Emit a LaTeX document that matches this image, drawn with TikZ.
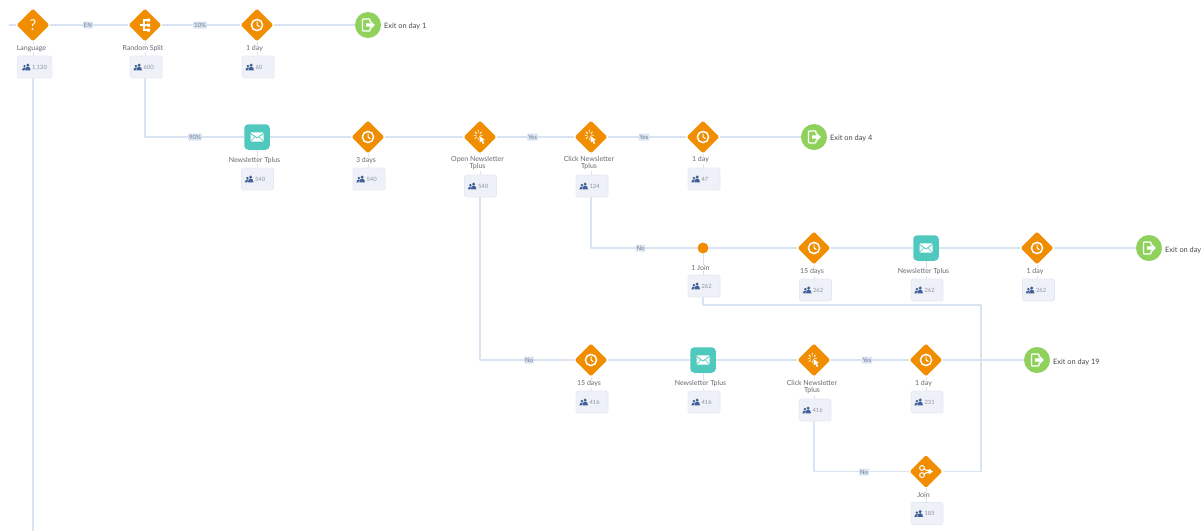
\documentclass[tikz,border=0pt]{standalone}
\usepackage{fontspec}
\setmainfont{Lato}
\usetikzlibrary{shapes.geometric,calc}
\pgfdeclarelayer{back}
\pgfsetlayers{back,main}
\definecolor{wire}{HTML}{D9E3F1}
\definecolor{orangeN}{HTML}{F08D00}
\definecolor{tealN}{HTML}{4FC9BD}
\definecolor{greenN}{HTML}{90D15C}
\definecolor{boxfill}{HTML}{EEF1F7}
\definecolor{boxline}{HTML}{E3E9F3}
\definecolor{peopleC}{HTML}{3F5F95}
\definecolor{countC}{HTML}{8B94A6}
\definecolor{labelC}{HTML}{666A70}
\definecolor{tagfill}{HTML}{DCE5F1}
\definecolor{tagtext}{HTML}{6C7D94}
\tikzset{
  wirepath/.style={draw=wire,line width=1.7pt,line join=round},
  stubpath/.style={draw=wire,line width=1pt},
  dia/.style={shape=diamond,fill=orangeN,minimum width=33pt,minimum height=33pt,inner sep=0pt,rounded corners=1.5pt},
  mailbox/.style={shape=rectangle,fill=tealN,minimum width=25.5pt,minimum height=25.5pt,inner sep=0pt,rounded corners=4pt},
  exitnode/.style={shape=circle,fill=greenN,minimum size=26pt,inner sep=0pt},
  dotnode/.style={shape=circle,fill=orangeN,minimum size=11pt,inner sep=0pt},
  countbox/.style={shape=rectangle,fill=boxfill,draw=boxline,line width=.7pt,rounded corners=1.5pt,minimum width=32pt,minimum height=22pt,inner sep=0pt},
  steplabel/.style={font=\fontsize{7}{7.6}\selectfont,text=labelC,align=center,fill=white,inner sep=.6pt},
  exitlabel/.style={font=\fontsize{7.4}{9}\selectfont,text=black!72,anchor=west,inner sep=0pt},
  tag/.style={font=\fontsize{6}{6.5}\selectfont,text=tagtext,fill=tagfill,inner sep=1pt,minimum height=7pt,rounded corners=.8pt},
  countnum/.style={font=\fontsize{5.8}{6.5}\selectfont,text=countC,anchor=west,inner sep=0pt},
  clockicon/.pic={\draw[white,line width=1.5pt] (0,0) circle (5.6);
     \draw[white,line width=1pt,line cap=round,line join=round] (0,-3.2) -- (0,0) -- (2.2,1.6);},
  mailicon/.pic={\fill[white,rounded corners=.8pt] (-6.5,-4.6) rectangle (6.5,4.6);
     \draw[tealN,line width=.8pt] (-6.5,-3.6) -- (0,1) -- (6.5,-3.6);
     \draw[tealN,line width=.5pt] (-6.5,4.2) -- (-2,-.2) (6.5,4.2) -- (2,-.2);},
  clickicon/.pic={\draw[white,line width=.8pt,line cap=round]
       (-1.8,-7) -- (-1.8,-4.8) (-1.8,2.8) -- (-1.8,1)
       (-6,-1.8) -- (-3.8,-1.8) (-5,-5) -- (-3.4,-3.4) (1.4,-5) -- (0,-3.4) (-5,1.6) -- (-3.4,0)
       (2.4,-1.8) -- (.4,-1.8);
     \fill[white] (-.6,-1.2) -- (5,3) -- (2.8,3.4) -- (4.2,6.4) -- (2.8,7) -- (1.4,4) -- (-.2,5.4) -- cycle;},
  spliticon/.pic={\draw[white,line width=1.1pt] (-5.5,0) -- (-1,0) (2,-5) -- (-1,-5) -- (-1,5) -- (2,5) (-1,0) -- (2,0);
     \fill[white] (2,-6.5) rectangle (5.2,-3.5) (2,-1.5) rectangle (5.2,1.5) (2,3.5) rectangle (5.2,6.5);},
  joinicon/.pic={\draw[white,line width=1pt] (-4,-3.6) circle (2.4) (-4,3.6) circle (2.4);
     \draw[white,line width=1.1pt] (-2.2,-2.2) -- (5,0) (-2.2,2.2) -- (5,0);
     \fill[white] (2.8,-3) -- (7,0) -- (2.8,3) -- cycle;},
  exiticon/.pic={\draw[white,line width=1.3pt,rounded corners=.8pt] (2,-3) -- (2,-6) -- (-5.5,-6) -- (-5.5,6) -- (2,6) -- (2,3);
     \fill[white] (-2,-1.6) -- (2.4,-1.6) -- (2.4,-4.4) -- (7,0) -- (2.4,4.4) -- (2.4,1.6) -- (-2,1.6) -- cycle;},
  peopleicon/.pic={\fill[peopleC] (1.4,-1.9) circle (1.65);
     \fill[peopleC] (-1.5,3.4) .. controls (-1.5,.6) and (.2,-.3) .. (1.4,-.3) .. controls (2.8,-.3) and (4.2,.6) .. (4.2,3.4) -- cycle;
     \fill[peopleC] (-1.9,-.9) circle (1.35);
     \fill[peopleC] (-4.4,3.4) .. controls (-4.4,1.4) and (-3.2,.6) .. (-1.9,.6) -- (-.9,.9) .. controls (-2,1.6) and (-2.2,2.4) .. (-2.2,3.4) -- cycle;},
}
% \cbox[opts]{name}{step above}{x}{y}{count}: count box with icon, and the stub from the step
\newcommand{\cbox}[6][]{%
  \node[countbox,#1] (#2) at (#4,#5) {};
  \pic at ($(#2.center)+(-8.2,0)$) {peopleicon};
  \node[countnum] at ($(#2.center)+(-2.6,0.3)$) {#6};
  \begin{pgfonlayer}{back}\draw[stubpath] (#3) -- (#3 |- #2.north);\end{pgfonlayer}}
\newcommand{\wire}[1]{\begin{pgfonlayer}{back}\draw[wirepath] #1;\end{pgfonlayer}}
\begin{document}
\begin{tikzpicture}[x=1pt,y=-1pt]
\useasboundingbox (0,0) rectangle (1203,531);
% steps
\node[dia] (lang) at (33,25) {};
\node[dia] (rsplit) at (145,25) {};
\node[dia] (wa) at (257,25) {};
\node[exitnode] (xa) at (368,25) {};
\node[mailbox] (mb) at (257,137) {};
\node[dia] (wb) at (368,137) {};
\node[dia] (open) at (480,137) {};
\node[dia] (clickb) at (591,137) {};
\node[dia] (wc) at (703,137) {};
\node[exitnode] (xb) at (814,137) {};
\node[dotnode] (jd) at (703,248) {};
\node[dia] (wd) at (814,248) {};
\node[mailbox] (mc) at (926,248) {};
\node[dia] (we) at (1037,248) {};
\node[exitnode] (xc) at (1149,248) {};
\node[dia] (wf) at (591,360) {};
\node[mailbox] (md) at (703,360) {};
\node[dia] (clickc) at (814,360) {};
\node[dia] (wg) at (926,360) {};
\node[exitnode] (xd) at (1037,360) {};
\node[dia] (joinb) at (926,471.5) {};
% free ends
\coordinate (startl) at (9,25);
\coordinate (bottoml) at (33,531);
\coordinate (corner) at (981,305);
% count boxes
\cbox[minimum width=34.5pt]{blang}{lang}{34.6}{67}{1,120}
\cbox{brs}{rsplit}{146}{67}{600}
\cbox{bwa}{wa}{258}{67}{60}
\cbox{bmb}{mb}{257.5}{179}{540}
\cbox{bwb}{wb}{369}{179}{540}
\cbox{bop}{open}{480.5}{186}{540}
\cbox{bcb}{clickb}{592}{186}{124}
\cbox{bwc}{wc}{704}{179}{47}
\cbox{bjd}{jd}{704}{286}{262}
\cbox{bwd}{wd}{815.5}{290}{262}
\cbox{bmc}{mc}{927}{290}{262}
\cbox{bwe}{we}{1038.5}{290}{262}
\cbox{bwf}{wf}{592}{402}{416}
\cbox{bmd}{md}{704}{402}{416}
\cbox{bcc}{clickc}{815}{410}{416}
\cbox{bwg}{wg}{927}{402}{231}
\cbox{bjb}{joinb}{927}{513.5}{185}
% wires
\wire{(startl) -- (lang)}
\wire{(lang) -- (rsplit)}
\wire{(rsplit) -- (wa)}
\wire{(wa) -- (xa)}
\wire{(lang |- blang.south) -- (bottoml)}
\wire{(rsplit |- brs.south) |- (mb)}
\wire{(mb) -- (wb)}
\wire{(wb) -- (open)}
\wire{(open) -- (clickb)}
\wire{(clickb) -- (wc)}
\wire{(wc) -- (xb)}
\wire{(clickb |- bcb.south) |- (jd)}
\wire{(jd) -- (wd)}
\wire{(wd) -- (mc)}
\wire{(mc) -- (we)}
\wire{(we) -- (xc)}
\wire{(open |- bop.south) |- (wf)}
\wire{(wf) -- (md)}
\wire{(md) -- (clickc)}
\wire{(clickc) -- (wg)}
\wire{(wg) -- (xd)}
\wire{(clickc |- bcc.south) |- (joinb)}
\wire{(jd |- bjd.south) -- (jd |- corner) -- (corner) -- (corner |- joinb) -- (joinb)}
% icons
\node[font=\fontsize{15}{15}\selectfont,text=white,inner sep=0pt] at (lang) {?};
\pic at (rsplit) {spliticon};
\foreach \c in {wa,wb,wc,wd,we,wf,wg} \pic at (\c) {clockicon};
\foreach \c in {mb,mc,md} \pic at (\c) {mailicon};
\foreach \c in {open,clickb,clickc} \pic at (\c) {clickicon};
\pic at (joinb) {joinicon};
\foreach \c in {xa,xb,xc,xd} \pic at (\c) {exiticon};
% step labels
\node[steplabel] (tlang) at (31.5,48.5) {Language};
\node[steplabel] (trs) at (143,48.5) {Random Split};
\node[steplabel] (twa) at (254.5,48.5) {1 day};
\node[steplabel] (tmb) at (254.5,160.5) {Newsletter Tplus};
\node[steplabel] (twb) at (366,160.5) {3 days};
\node[steplabel] (top) at (477.5,163) {Open Newsletter\\Tplus};
\node[steplabel] (tcb) at (589,163) {Click Newsletter\\Tplus};
\node[steplabel] (twc) at (700.5,160) {1 day};
\node[steplabel] (tjd) at (700.5,268) {1 Join};
\node[steplabel] (twd) at (812,272) {15 days};
\node[steplabel] (tmc) at (923.5,272) {Newsletter Tplus};
\node[steplabel] (twe) at (1035,272) {1 day};
\node[steplabel] (twf) at (589,384) {15 days};
\node[steplabel] (tmd) at (700.5,384) {Newsletter Tplus};
\node[steplabel] (tcc) at (812,387) {Click Newsletter\\Tplus};
\node[steplabel] (twg) at (923.5,383.5) {1 day};
\node[steplabel] (tjb) at (923.5,495) {Join};
% exit labels
\node[exitlabel] (ta) at (384,26) {Exit on day 1};
\node[exitlabel] (tb) at (830,138.5) {Exit on day 4};
\node[exitlabel] (tc) at (1165,250) {Exit on day};
\node[exitlabel] (td) at (1053,362) {Exit on day 19};
% edge tags
\node[tag] (e1) at (88,25) {EN};
\node[tag] (e2) at (200,25) {10\%};
\node[tag] (e3) at (195,137) {90\%};
\node[tag] (e4) at (532.5,137) {Yes};
\node[tag] (e5) at (644,137) {Yes};
\node[tag] (e6) at (640.5,248) {No};
\node[tag] (e7) at (529,360) {No};
\node[tag] (e8) at (867,360) {Yes};
\node[tag] (e9) at (864,472) {No};
\end{tikzpicture}
\end{document}
